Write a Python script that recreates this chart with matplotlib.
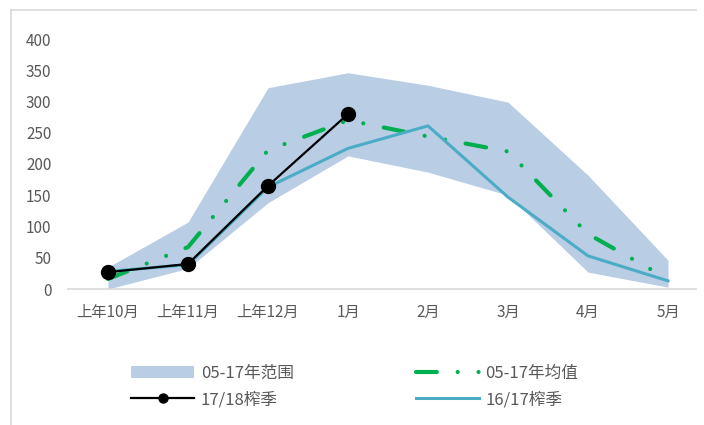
import numpy as np
from matplotlib import pyplot as plt
from matplotlib.lines import Line2D

plt.rcParams['font.family'] = ['Noto Sans CJK SC', 'DejaVu Sans']

months = ['上年10月', '上年11月', '上年12月', '1月', '2月', '3月', '4月', '5月']
range_low = [0, 33, 138, 213, 187, 150, 27, 3]
range_high = [35, 107, 322, 346, 326, 299, 182, 46]
mean_0517 = [16, 67, 222, 270, 244, 220, 88, 16]
s1718 = [27, 40, 165, 280]
s1617 = [28, 39, 163, 225, 261, 147, 53, 13]

W, H = 704, 425
fig = plt.figure(figsize=(W / 100, H / 100), dpi=100)
ax = fig.add_axes([68 / W, 1 - 289 / H, 640 / W, 250 / H])

x = np.arange(len(months))
band = ax.fill_between(x, range_low, range_high, color='#B9CDE5', lw=0, label='05-17年范围')
mean_line, = ax.plot(x, mean_0517, color='#00B050', lw=3,
                     linestyle=(0, (5, 5, 0.01, 5, 0.01, 5)),
                     dash_capstyle='round', label='05-17年均值')
blue_line, = ax.plot(x, s1617, color='#4BACC6', lw=2.2, label='16/17榨季')
black_line, = ax.plot(x[:len(s1718)], s1718, color='black', lw=1.6, marker='o',
                      markersize=10, label='17/18榨季')

ax.set_xlim(-0.5, len(months) - 0.5)
ax.set_ylim(0, 400)
ax.set_yticks(range(0, 401, 50))
ax.set_xticks(x)
ax.set_xticklabels(months)
ax.tick_params(length=0, colors='#595959', labelsize=11)
ax.tick_params(axis='x', pad=11)
ax.tick_params(axis='y', pad=12)
for s in ['top', 'right', 'left', 'bottom']:
    ax.spines[s].set_visible(False)
ax.axhline(0, xmin=0, xmax=(696 - 68) / 640, color='#D9D9D9', lw=1.2, clip_on=False)

# chart area border
fig.add_artist(Line2D([11 / W, 11 / W], [0, 1 - 10 / H], color='#D9D9D9', lw=1.2))
fig.add_artist(Line2D([11 / W, 696 / W], [1 - 10 / H, 1 - 10 / H], color='#D9D9D9', lw=1.2))

leg = fig.legend([band, black_line, mean_line, blue_line],
                 ['05-17年范围', '17/18榨季', '05-17年均值', '16/17榨季'],
                 ncol=2, loc='upper left', bbox_to_anchor=(116 / W, 1 - 350 / H),
                 frameon=False, fontsize=12, handlelength=3.8, handletextpad=0.4,
                 columnspacing=7.3, labelspacing=0.55, labelcolor='#595959',
                 markerscale=0.65)

fig.savefig('out.png', dpi=100)
